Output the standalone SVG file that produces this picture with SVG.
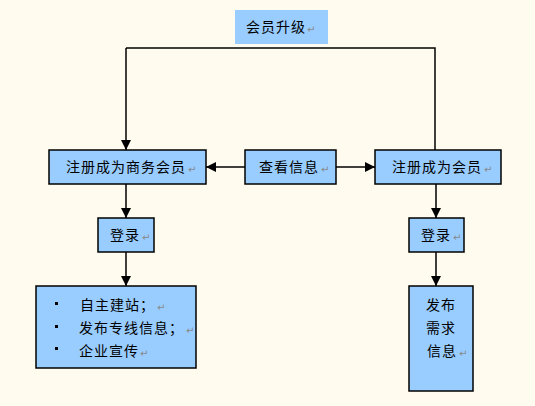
<svg xmlns="http://www.w3.org/2000/svg" width="535" height="406" viewBox="0 0 535 406">
<style>
.bx{fill:#99CCFF;stroke:#000;stroke-width:1.5}
.t{font-family:"Noto Sans CJK SC","Liberation Sans",sans-serif;font-size:14px;fill:#000;letter-spacing:1px}
.rm{font-family:"DejaVu Sans",sans-serif;font-size:10px;fill:#888}
.ln{stroke:#000;stroke-width:1.5;fill:none}
</style>
<defs>
<marker id="ah" viewBox="0 0 10 10" refX="10" refY="5" markerWidth="10" markerHeight="10" markerUnits="userSpaceOnUse" orient="auto">
<path d="M0,0 L10,5 L0,10 Z" fill="#000"/>
</marker>
</defs>
<rect width="535" height="406" fill="#FFFCEF"/>
<g id="connectors">
<polyline class="ln" points="126,48 126,150" marker-end="url(#ah)"/>
<polyline class="ln" points="126,48 435,48 435,150"/>
<line class="ln" x1="245" y1="167" x2="206" y2="167" marker-end="url(#ah)"/>
<line class="ln" x1="336" y1="167" x2="375" y2="167" marker-end="url(#ah)"/>
<line class="ln" x1="126" y1="184" x2="126" y2="218" marker-end="url(#ah)"/>
<line class="ln" x1="126" y1="252" x2="126" y2="286" marker-end="url(#ah)"/>
<line class="ln" x1="436" y1="184" x2="436" y2="218" marker-end="url(#ah)"/>
<line class="ln" x1="436" y1="252" x2="436" y2="286" marker-end="url(#ah)"/>
</g>
<g id="upgrade">
<rect x="235" y="10" width="93" height="34" fill="#99CCFF"/>
<text class="t" x="246" y="32">会员升级</text><text class="rm" x="307" y="33">↵</text>
</g>
<g id="biz">
<rect class="bx" x="49" y="150" width="157" height="34"/>
<text class="t" x="66" y="172">注册成为商务会员</text><text class="rm" x="188" y="173">↵</text>
</g>
<g id="view">
<rect class="bx" x="245" y="150" width="91" height="34"/>
<text class="t" x="259" y="172">查看信息</text><text class="rm" x="321" y="173">↵</text>
</g>
<g id="member">
<rect class="bx" x="375" y="150" width="126" height="34"/>
<text class="t" x="392" y="172">注册成为会员</text><text class="rm" x="484" y="173">↵</text>
</g>
<g id="login1">
<rect class="bx" x="98" y="218" width="56" height="34"/>
<text class="t" x="110" y="240">登录</text><text class="rm" x="142" y="241">↵</text>
</g>
<g id="login2">
<rect class="bx" x="409" y="218" width="55" height="34"/>
<text class="t" x="421" y="240">登录</text><text class="rm" x="453" y="241">↵</text>
</g>
<g id="services">
<rect class="bx" x="36" y="286" width="160" height="82"/>
<rect x="55" y="302" width="3" height="3" fill="#000"/>
<rect x="55" y="325" width="3" height="3" fill="#000"/>
<rect x="55" y="347" width="3" height="3" fill="#000"/>
<text class="t" x="80" y="310">自主建站；</text><text class="rm" x="157" y="311">↵</text>
<text class="t" x="79" y="333">发布专线信息；</text><text class="rm" x="186" y="334">↵</text>
<text class="t" x="79" y="356">企业宣传</text><text class="rm" x="140" y="357">↵</text>
</g>
<g id="demand">
<rect class="bx" x="409" y="286" width="64" height="105"/>
<text class="t" x="426" y="310">发布</text>
<text class="t" x="426" y="333">需求</text>
<text class="t" x="427" y="356">信息</text><text class="rm" x="459" y="357">↵</text>
</g>
</svg>
